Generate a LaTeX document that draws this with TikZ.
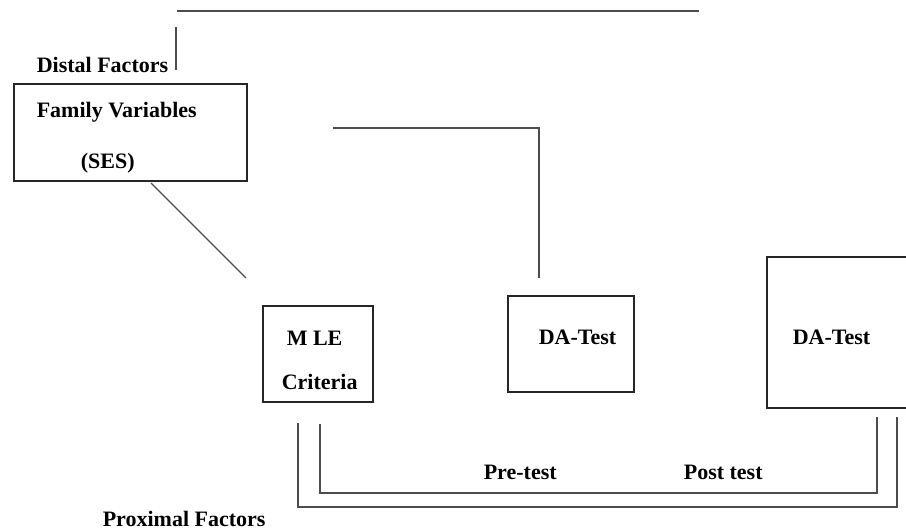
\documentclass[tikz,border=0pt]{standalone}
\usepackage{fontspec}
\setmainfont{Liberation Serif}
\usetikzlibrary{positioning}

\tikzset{every picture/.style={line width=1.2pt}}
\tikzset{
  factorbox/.style={draw=black!85, rectangle, inner sep=0pt},
  factortext/.style={anchor=base west, inner sep=0pt, font=\fontsize{16.5}{19}\selectfont\bfseries},
  link/.style={draw=black!70}
}

\begin{document}
\begin{tikzpicture}[x=0.75pt,y=0.75pt,yscale=-1]
\useasboundingbox (0,0) rectangle (906,529);

% Boxes
\node [factorbox, minimum width=233*0.75pt, minimum height=97*0.75pt] (family) at (130.5,132.5) {};
\node [factorbox, minimum width=110*0.75pt, minimum height=96*0.75pt] (mle) at (318,354) {};
\node [factorbox, minimum width=126*0.75pt, minimum height=96*0.75pt] (pretest) at (571,344) {};
\node [factorbox, minimum width=145*0.75pt, minimum height=151*0.75pt] (posttest) at (839.5,332.5) {};

% Text Nodes
\node [factortext] (distal) at (36,72) {Distal Factors};
\node [factortext] (famvar) at (36,117) {Family Variables};
\node [factortext] (ses) at (80,168) {(SES)};
\node [factortext] (mletxt) at (286,345) {M LE};
\node [factortext] (crit) at (281,389) {Criteria};
\node [factortext] (datxt) at (538,344) {DA-Test};
\node [factortext] (datxtb) at (792,344) {DA-Test};
\node [factortext] (pre) at (483,479) {Pre-test};
\node [factortext] (post) at (683,479) {Post test};
\node [factortext] (proximal) at (102,526) {Proximal Factors};

% Free ends
\coordinate (topl) at (177,11);
\coordinate (topr) at (699,11);
\coordinate (distup) at (176,27);
\coordinate (distdown) at (176,70);
\coordinate (famfoot) at (151,183);
\coordinate (mlehead) at (246,278);
\coordinate (elbowl) at (333,128);
\coordinate (elbowc) at (539,128);
\coordinate (prehead) at (539,278);
\coordinate (outa) at (298,423);
\coordinate (outb) at (298,507);
\coordinate (outc) at (897,507);
\coordinate (outd) at (897,417);
\coordinate (ina) at (320,424);
\coordinate (inb) at (320,493);
\coordinate (inc) at (877,493);
\coordinate (ind) at (877,417);

% Lines
\draw [link] (topl) -- (topr);
\draw [link] (distup) -- (distdown);
\draw [link, line width=0.8pt] (famfoot) -- (mlehead);
\draw [link] (elbowl) -- (elbowc) -- (prehead);
\draw [link] (outa) -- (outb) -- (outc) -- (outd);
\draw [link] (ina) -- (inb) -- (inc) -- (ind);
\end{tikzpicture}
\end{document}
